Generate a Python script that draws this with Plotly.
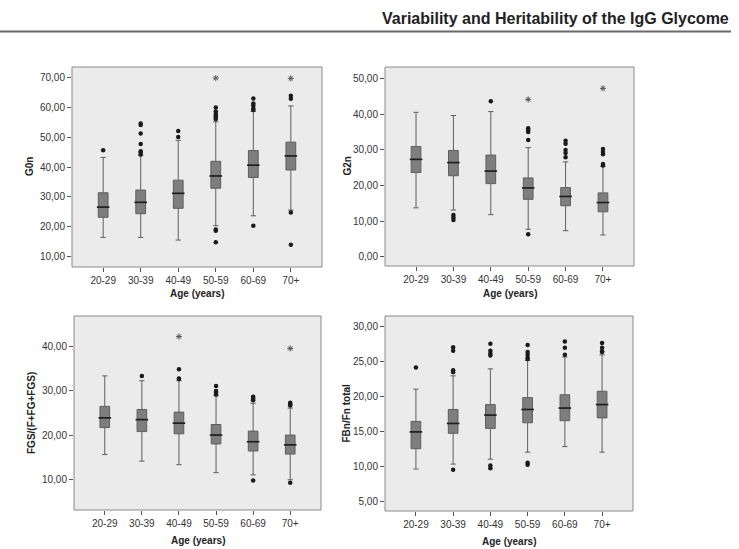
import plotly.graph_objects as go

W, H = 739, 549

ages = ["20-29", "30-39", "40-49", "50-59", "60-69", "70+"]

# ---- G0n ----
g0n_lo = [16.5, 16.5, 15.6, 20.4, 23.7, 25.6]
g0n_q1 = [23.2, 24.4, 26.2, 32.9, 36.5, 39.0]
g0n_med = [26.6, 28.2, 31.2, 37.0, 40.6, 43.7]
g0n_q3 = [31.4, 32.3, 35.6, 41.9, 45.5, 48.3]
g0n_hi = [43.2, 43.8, 48.9, 55.1, 58.6, 60.4]
g0n_out_x = ["20-29", "30-39", "30-39", "30-39", "30-39", "30-39", "30-39", "30-39",
             "40-49", "40-49",
             "50-59", "50-59", "50-59", "50-59", "50-59", "50-59", "50-59", "50-59", "50-59",
             "60-69", "60-69", "60-69", "60-69", "60-69", "60-69",
             "70+", "70+", "70+", "70+"]
g0n_out_y = [45.6, 54.5, 54.0, 51.2, 47.7, 45.3, 44.8, 44.2,
             52.0, 50.0,
             59.9, 58.5, 57.8, 57.2, 56.5, 56.0, 19.1, 18.7, 14.9,
             62.9, 61.2, 60.5, 59.5, 59.0, 20.4,
             63.8, 62.8, 24.8, 14.0]
g0n_ext_x = ["50-59", "70+"]
g0n_ext_y = [69.7, 69.6]

# ---- G2n ----
g2n_lo = [13.7, 13.1, 11.8, 7.7, 7.3, 6.1]
g2n_q1 = [23.6, 22.7, 20.5, 16.1, 14.3, 12.6]
g2n_med = [27.3, 26.4, 24.0, 19.3, 16.9, 15.2]
g2n_q3 = [30.9, 29.8, 28.5, 22.1, 19.4, 17.9]
g2n_hi = [40.5, 39.6, 40.7, 30.6, 26.6, 25.3]
g2n_out_x = ["30-39", "30-39", "30-39",
             "40-49",
             "50-59", "50-59", "50-59", "50-59", "50-59",
             "60-69", "60-69", "60-69", "60-69", "60-69",
             "70+", "70+", "70+", "70+", "70+"]
g2n_out_y = [11.7, 11.0, 10.3,
             43.6,
             36.0, 35.5, 35.0, 32.7, 6.3,
             32.5, 31.7, 29.9, 29.1, 27.9,
             30.2, 29.4, 28.7, 26.0, 25.6]
g2n_ext_x = ["50-59", "70+"]
g2n_ext_y = [44.1, 47.2]

# ---- FGS/(F+FG+FGS) ----
fgs_lo = [15.6, 14.1, 13.3, 11.5, 11.0, 9.9]
fgs_q1 = [21.7, 20.8, 20.3, 18.0, 16.4, 15.7]
fgs_med = [23.9, 23.5, 22.7, 20.0, 18.5, 17.8]
fgs_q3 = [26.5, 25.8, 25.2, 22.4, 20.9, 20.0]
fgs_hi = [33.4, 32.3, 32.3, 28.9, 27.2, 26.1]
fgs_out_x = ["30-39",
             "40-49", "40-49", "40-49",
             "50-59", "50-59", "50-59", "50-59",
             "60-69", "60-69", "60-69", "60-69",
             "70+", "70+", "70+", "70+"]
fgs_out_y = [33.4,
             34.9, 32.8, 32.7,
             31.1, 30.0, 29.6, 29.2,
             28.7, 28.3, 27.9, 9.7,
             27.3, 27.0, 26.7, 9.2]
fgs_ext_x = ["40-49", "70+"]
fgs_ext_y = [42.3, 39.6]

# ---- FBn/Fn total ----
fbn_lo = [9.7, 10.4, 11.1, 12.1, 12.9, 12.1]
fbn_q1 = [12.6, 14.8, 15.5, 16.3, 16.6, 17.0]
fbn_med = [15.0, 16.2, 17.4, 18.2, 18.4, 18.9]
fbn_q3 = [16.5, 18.2, 18.9, 19.9, 20.3, 20.8]
fbn_hi = [21.1, 23.0, 24.0, 25.2, 25.7, 26.0]
fbn_out_x = ["20-29",
             "30-39", "30-39", "30-39", "30-39", "30-39",
             "40-49", "40-49", "40-49", "40-49", "40-49", "40-49",
             "50-59", "50-59", "50-59", "50-59", "50-59", "50-59", "50-59",
             "60-69", "60-69", "60-69",
             "70+", "70+", "70+", "70+"]
fbn_out_y = [24.2,
             27.1, 26.6, 23.8, 23.5, 9.6,
             27.6, 26.6, 26.2, 25.9, 10.2, 9.8,
             27.4, 26.4, 26.0, 25.6, 25.4, 10.6, 10.3,
             27.9, 27.0, 26.0,
             27.7, 27.0, 26.5, 26.4]
fbn_ext_x = []
fbn_ext_y = []

panels = [
    dict(lo=g0n_lo, q1=g0n_q1, med=g0n_med, q3=g0n_q3, hi=g0n_hi,
         ox=g0n_out_x, oy=g0n_out_y, ex=g0n_ext_x, ey=g0n_ext_y,
         ticks=[10, 20, 30, 40, 50, 60, 70], yr=[6.6, 73.4], title="G0n",
         box=(72, 322, 67, 267), ytx=30, xty=293),
    dict(lo=g2n_lo, q1=g2n_q1, med=g2n_med, q3=g2n_q3, hi=g2n_hi,
         ox=g2n_out_x, oy=g2n_out_y, ex=g2n_ext_x, ey=g2n_ext_y,
         ticks=[0, 10, 20, 30, 40, 50], yr=[-2.6, 53.2], title="G2n",
         box=(385, 634, 67, 266), ytx=347, xty=293),
    dict(lo=fgs_lo, q1=fgs_q1, med=fgs_med, q3=fgs_q3, hi=fgs_hi,
         ox=fgs_out_x, oy=fgs_out_y, ex=fgs_ext_x, ey=fgs_ext_y,
         ticks=[10, 20, 30, 40], yr=[3.05, 46.95], title="FGS/(F+FG+FGS)",
         box=(74, 321, 316, 510), ytx=31, xty=540),
    dict(lo=fbn_lo, q1=fbn_q1, med=fbn_med, q3=fbn_q3, hi=fbn_hi,
         ox=fbn_out_x, oy=fbn_out_y, ex=fbn_ext_x, ey=fbn_ext_y,
         ticks=[5, 10, 15, 20, 25, 30], yr=[3.7, 31.55], title="FBn/Fn total",
         box=(385, 633, 316, 511), ytx=346, xty=541),
]

FONT = "Arial, Liberation Sans, sans-serif"
fig = go.Figure()
annotations = []

for i, p in enumerate(panels, start=1):
    xa = "x" if i == 1 else f"x{i}"
    ya = "y" if i == 1 else f"y{i}"
    x0, x1, y0, y1 = p["box"]

    fig.add_trace(go.Box(
        x=ages, q1=p["q1"], median=p["med"], q3=p["q3"],
        lowerfence=p["lo"], upperfence=p["hi"],
        width=0.26, whiskerwidth=0.55,
        fillcolor="#7e7e7e", line=dict(color="#5e5e5e", width=1),
        boxpoints=False, hoverinfo="skip",
        xaxis=xa, yaxis=ya, showlegend=False))
    # darker median bar over each box
    fig.add_trace(go.Scatter(
        x=ages, y=p["med"], mode="markers",
        marker=dict(symbol="line-ew", size=9,
                    line=dict(color="#1c1c1c", width=1.6)),
        hoverinfo="skip", xaxis=xa, yaxis=ya, showlegend=False))
    # outliers
    fig.add_trace(go.Scatter(
        x=p["ox"], y=p["oy"], mode="markers",
        marker=dict(symbol="circle", size=4.5, color="#1a1a1a"),
        hoverinfo="skip", xaxis=xa, yaxis=ya, showlegend=False))
    # extreme values
    if p["ex"]:
        fig.add_trace(go.Scatter(
            x=p["ex"], y=p["ey"], mode="markers",
            marker=dict(symbol="asterisk-open", size=5, color="#555555",
                        line=dict(color="#555555", width=1)),
            hoverinfo="skip", xaxis=xa, yaxis=ya, showlegend=False))

    common = dict(showgrid=False, zeroline=False, showline=False,
                  ticks="outside", ticklen=4, tickcolor="#555555",
                  tickfont=dict(family=FONT, size=10, color="#333333"))
    fig.update_layout({
        ("xaxis" if i == 1 else f"xaxis{i}"): dict(
            domain=[x0 / W, x1 / W], anchor=ya, type="category",
            categoryorder="array", categoryarray=ages,
            range=[-0.83, 5.83], **common),
        ("yaxis" if i == 1 else f"yaxis{i}"): dict(
            domain=[1 - y1 / H, 1 - y0 / H], anchor=xa,
            range=p["yr"], tickvals=p["ticks"],
            ticktext=[f"{t:.2f}".replace(".", ",") for t in p["ticks"]],
            **common),
    })
    fig.add_shape(type="rect", xref="paper", yref="paper",
                  x0=x0 / W, x1=x1 / W, y0=1 - y1 / H, y1=1 - y0 / H,
                  fillcolor="#ebebeb", line=dict(color="#8a8a8a", width=1),
                  layer="below")
    annotations.append(dict(
        text="<b>" + p["title"] + "</b>", xref="paper", yref="paper",
        x=p["ytx"] / W, y=1 - (y0 + y1) / 2 / H, textangle=-90,
        showarrow=False, xanchor="center", yanchor="middle",
        font=dict(family=FONT, size=10, color="#222222")))
    annotations.append(dict(
        text="<b>Age (years)</b>", xref="paper", yref="paper",
        x=(x0 + x1) / 2 / W, y=1 - p["xty"] / H,
        showarrow=False, xanchor="center", yanchor="middle",
        font=dict(family=FONT, size=10, color="#222222")))

annotations.append(dict(
    text="<b>Variability and Heritability of the IgG Glycome</b>",
    xref="paper", yref="paper", x=731 / W, y=1 - 18 / H,
    showarrow=False, xanchor="right", yanchor="middle",
    font=dict(family="Liberation Sans Narrow, Arial Narrow, Arial, sans-serif",
              size=16, color="#222222")))

fig.add_shape(type="line", xref="paper", yref="paper",
              x0=0, x1=731 / W, y0=1 - 31.5 / H, y1=1 - 31.5 / H,
              line=dict(color="#6a6a6a", width=2))

fig.update_layout(
    width=W, height=H, margin=dict(l=0, r=0, t=0, b=0),
    paper_bgcolor="white", plot_bgcolor="rgba(0,0,0,0)",
    annotations=annotations, showlegend=False)

fig.write_html("out.html")
